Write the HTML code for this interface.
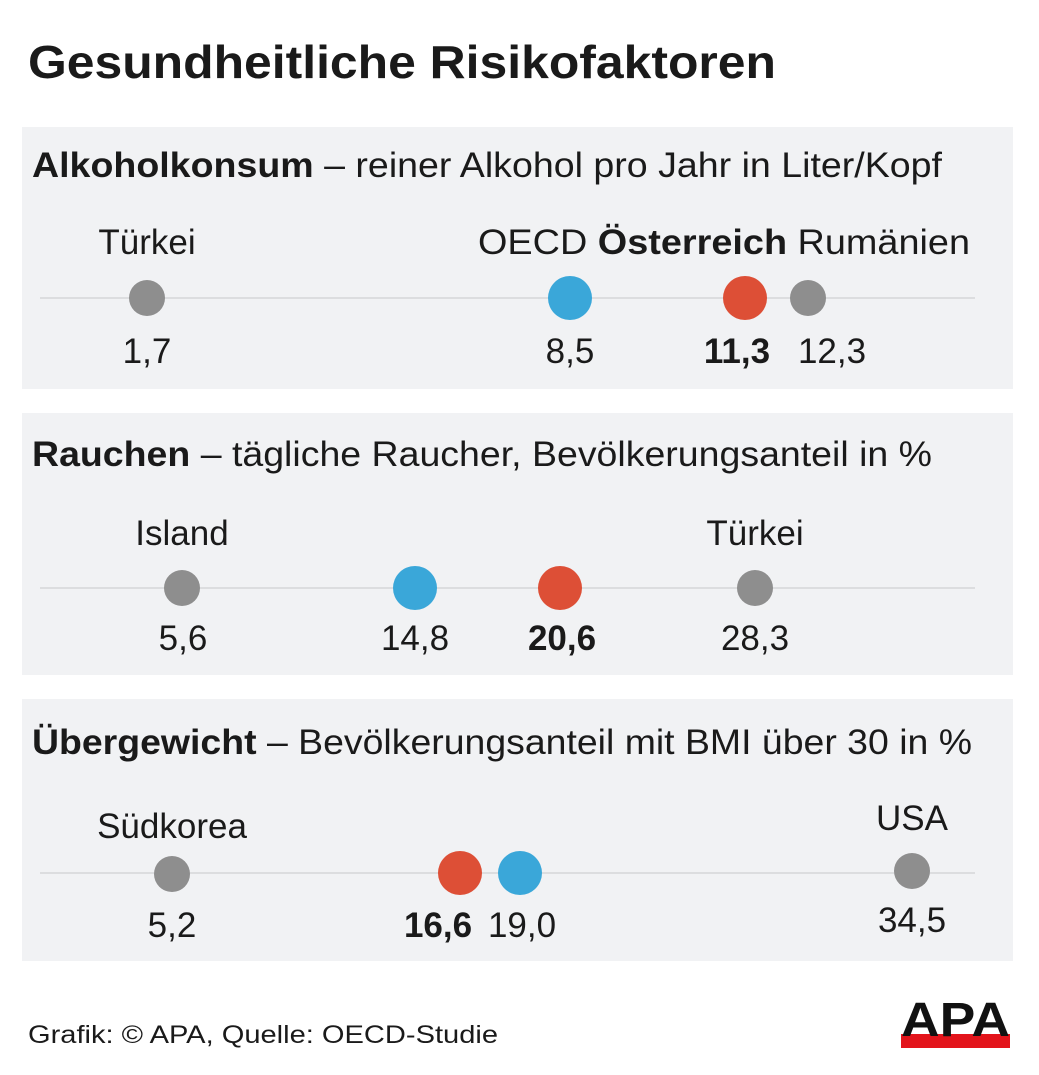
<!DOCTYPE html>
<html><head><meta charset="utf-8"><style>
body{margin:0;background:#fff;}
svg{display:block;font-family:"Liberation Sans",Arial,sans-serif;}
</style></head><body>
<svg width="1039" height="1075" viewBox="0 0 1039 1075" xmlns="http://www.w3.org/2000/svg">
<rect width="1039" height="1075" fill="#fff"/>
<text x="28" y="78" font-size="46" font-weight="bold" fill="#1a1a1a" textLength="748" lengthAdjust="spacingAndGlyphs">Gesundheitliche Risikofaktoren</text>

<g font-size="35" fill="#1a1a1a">
<!-- Panel 1 -->
<rect x="22" y="127" width="991" height="262" fill="#f1f2f4"/>
<text x="32" y="177" textLength="910" lengthAdjust="spacingAndGlyphs"><tspan font-weight="bold">Alkoholkonsum</tspan> – reiner Alkohol pro Jahr in Liter/Kopf</text>
<line x1="40" y1="298" x2="975" y2="298" stroke="#dcdddf" stroke-width="2"/>
<text x="147" y="254" text-anchor="middle">Türkei</text>
<text x="478" y="254" textLength="492" lengthAdjust="spacingAndGlyphs">OECD <tspan font-weight="bold">Österreich</tspan> Rumänien</text>
<circle cx="147" cy="298" r="18" fill="#8e8e8e"/>
<circle cx="570" cy="298" r="22" fill="#3aa7d9"/>
<circle cx="745" cy="298" r="22" fill="#dd4f36"/>
<circle cx="808" cy="298" r="18" fill="#8e8e8e"/>
<text x="147" y="363" text-anchor="middle">1,7</text>
<text x="570" y="363" text-anchor="middle">8,5</text>
<text x="737" y="363" text-anchor="middle" font-weight="bold">11,3</text>
<text x="832" y="363" text-anchor="middle">12,3</text>

<!-- Panel 2 -->
<rect x="22" y="413" width="991" height="262" fill="#f1f2f4"/>
<text x="32" y="466" textLength="900" lengthAdjust="spacingAndGlyphs"><tspan font-weight="bold">Rauchen</tspan> – tägliche Raucher, Bevölkerungsanteil in %</text>
<line x1="40" y1="588" x2="975" y2="588" stroke="#dcdddf" stroke-width="2"/>
<text x="182" y="545" text-anchor="middle">Island</text>
<text x="755" y="545" text-anchor="middle">Türkei</text>
<circle cx="182" cy="588" r="18" fill="#8e8e8e"/>
<circle cx="415" cy="588" r="22" fill="#3aa7d9"/>
<circle cx="560" cy="588" r="22" fill="#dd4f36"/>
<circle cx="755" cy="588" r="18" fill="#8e8e8e"/>
<text x="183" y="650" text-anchor="middle">5,6</text>
<text x="415" y="650" text-anchor="middle">14,8</text>
<text x="562" y="650" text-anchor="middle" font-weight="bold">20,6</text>
<text x="755" y="650" text-anchor="middle">28,3</text>

<!-- Panel 3 -->
<rect x="22" y="699" width="991" height="262" fill="#f1f2f4"/>
<text x="32" y="754" textLength="940" lengthAdjust="spacingAndGlyphs"><tspan font-weight="bold">Übergewicht</tspan> – Bevölkerungsanteil mit BMI über 30 in %</text>
<line x1="40" y1="873" x2="975" y2="873" stroke="#dcdddf" stroke-width="2"/>
<text x="172" y="838" text-anchor="middle">Südkorea</text>
<text x="912" y="830" text-anchor="middle">USA</text>
<circle cx="172" cy="874" r="18" fill="#8e8e8e"/>
<circle cx="460" cy="873" r="22" fill="#dd4f36"/>
<circle cx="520" cy="873" r="22" fill="#3aa7d9"/>
<circle cx="912" cy="871" r="18" fill="#8e8e8e"/>
<text x="172" y="937" text-anchor="middle">5,2</text>
<text x="438" y="937" text-anchor="middle" font-weight="bold">16,6</text>
<text x="522" y="937" text-anchor="middle">19,0</text>
<text x="912" y="932" text-anchor="middle">34,5</text>
</g>

<text x="28" y="1043" font-size="25" fill="#1a1a1a" textLength="470" lengthAdjust="spacingAndGlyphs">Grafik: © APA, Quelle: OECD-Studie</text>
<rect x="901" y="1034" width="109" height="14" fill="#e3141b"/>
<text x="901" y="1036" font-size="48" font-weight="bold" fill="#111" textLength="109" lengthAdjust="spacingAndGlyphs">APA</text>
</svg>
</body></html>
